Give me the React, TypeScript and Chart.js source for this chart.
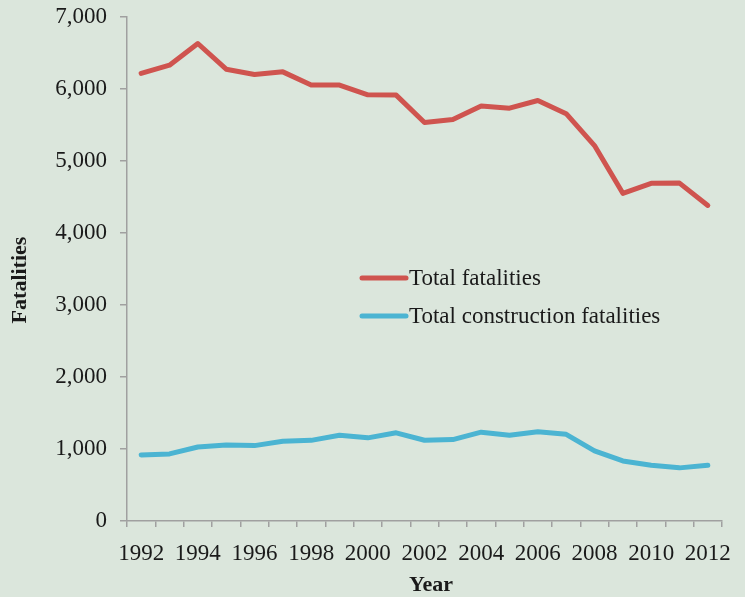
import React, { useEffect, useRef } from "react";
import { Chart, registerables } from "chart.js";

Chart.register(...registerables);

const years = [
  "1992", "1993", "1994", "1995", "1996", "1997", "1998", "1999", "2000", "2001",
  "2002", "2003", "2004", "2005", "2006", "2007", "2008", "2009", "2010", "2011", "2012",
];
const totalFatalities = [
  6217, 6331, 6632, 6275, 6202, 6238, 6055, 6054, 5920, 5915,
  5534, 5575, 5764, 5734, 5840, 5657, 5214, 4551, 4690, 4693, 4383,
];
const constructionFatalities = [
  917, 932, 1028, 1055, 1047, 1107, 1120, 1190, 1155, 1225,
  1121, 1131, 1234, 1192, 1239, 1204, 975, 834, 774, 738, 775,
];
const seriesNames = ["Total fatalities", "Total construction fatalities"];
const colors = ["#cf544f", "#4bb4d2"];
const FONT = "'Liberation Serif', 'Times New Roman', serif";
const BG = "#dbe6dc";

export default function App() {
  const ref = useRef<HTMLCanvasElement | null>(null);
  useEffect(() => {
    document.body.style.margin = "0";
    const ctx = ref.current!;
    const legendPlugin = {
      id: "customLegend",
      afterDraw(chart: any) {
        const c = chart.ctx;
        c.save();
        const items = [
          { y: 278, color: colors[0], text: seriesNames[0] },
          { y: 316, color: colors[1], text: seriesNames[1] },
        ];
        items.forEach((it) => {
          c.strokeStyle = it.color;
          c.lineWidth = 5;
          c.lineCap = "round";
          c.beginPath();
          c.moveTo(362, it.y);
          c.lineTo(406, it.y);
          c.stroke();
          c.fillStyle = "#1a1a1a";
          c.font = `23px ${FONT}`;
          c.textBaseline = "middle";
          c.textAlign = "left";
          c.fillText(it.text, 409, it.y + 1);
        });
        // axis titles
        c.font = `bold 22px ${FONT}`;
        c.textAlign = "center";
        c.textBaseline = "middle";
        c.fillText("Year", 431, 585);
        c.translate(20, 280);
        c.rotate(-Math.PI / 2);
        c.fillText("Fatalities", 0, 0);
        c.restore();
      },
    };
    const chart = new Chart(ctx, {
      type: "line",
      data: {
        labels: years,
        datasets: [
          {
            label: seriesNames[0],
            data: totalFatalities,
            borderColor: colors[0],
            backgroundColor: colors[0],
            borderWidth: 5,
            pointRadius: 0,
            tension: 0,
            borderCapStyle: "round",
            borderJoinStyle: "round",
          },
          {
            label: seriesNames[1],
            data: constructionFatalities,
            borderColor: colors[1],
            backgroundColor: colors[1],
            borderWidth: 5,
            pointRadius: 0,
            tension: 0,
            borderCapStyle: "round",
            borderJoinStyle: "round",
          },
        ],
      },
      options: {
        animation: false,
        responsive: false,
        maintainAspectRatio: false,
        layout: { padding: { left: 0, top: 17, right: 23, bottom: 0 } },
        plugins: { legend: { display: false }, tooltip: { enabled: false } },
        scales: {
          x: {
            type: "category",
            offset: true,
            grid: {
              offset: true,
              drawOnChartArea: false,
              drawTicks: true,
              tickLength: 6,
              color: "#a0a0a0",
              lineWidth: 1.5,
            },
            border: { color: "#a0a0a0", width: 1.5 },
            ticks: {
              autoSkip: false,
              maxRotation: 0,
              minRotation: 0,
              padding: 13,
              color: "#1a1a1a",
              font: { family: FONT, size: 23 },
              callback: (_v: any, i: number) => (i % 2 === 0 ? years[i] : ""),
            },
            afterFit: (s: any) => {
              s.height = 76;
              s.paddingLeft = 0;
              s.paddingRight = 0;
            },
          },
          y: {
            min: 0,
            max: 7000,
            grid: {
              drawOnChartArea: false,
              drawTicks: true,
              tickLength: 7,
              color: "#a0a0a0",
              lineWidth: 1.5,
            },
            border: { color: "#a0a0a0", width: 1.5 },
            ticks: {
              stepSize: 1000,
              padding: 13,
              color: "#1a1a1a",
              font: { family: FONT, size: 23 },
              callback: (v: any) => Number(v).toLocaleString("en-US"),
            },
            afterFit: (s: any) => {
              s.width = 127;
              s.paddingTop = 0;
              s.paddingBottom = 0;
            },
          },
        },
      },
      plugins: [legendPlugin],
    });
    return () => chart.destroy();
  }, []);
  return (
    <div style={{ position: "absolute", left: 0, top: 0, width: 745, height: 597, background: BG }}>
      <canvas ref={ref} width={745} height={597} style={{ width: 745, height: 597, display: "block" }} />
    </div>
  );
}
